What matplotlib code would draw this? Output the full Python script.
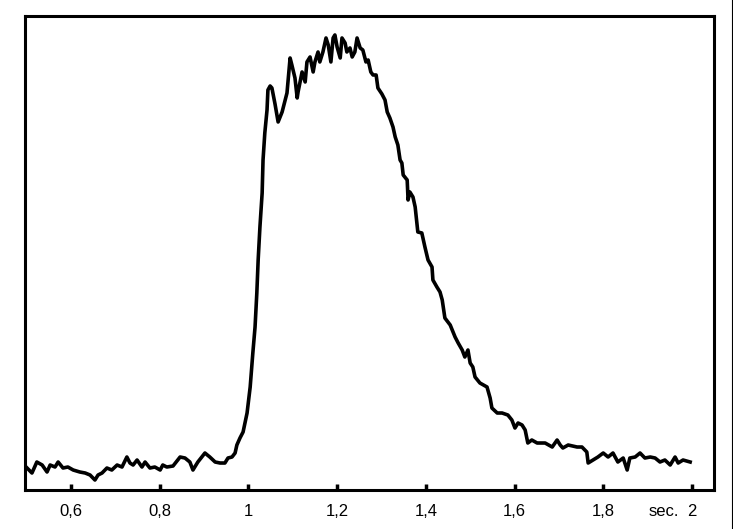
import matplotlib
matplotlib.use("Agg")
import matplotlib.pyplot as plt
from matplotlib.lines import Line2D

# Signal trace read from the recording (time in s, amplitude in arbitrary units)
t = [0.501, 0.512, 0.523, 0.535, 0.546, 0.553, 0.564, 0.571, 0.582, 0.593,
     0.605, 0.620, 0.632, 0.643, 0.654, 0.661, 0.670, 0.681, 0.692, 0.704,
     0.715, 0.726, 0.733, 0.740, 0.749, 0.760, 0.767, 0.778, 0.789, 0.801,
     0.807, 0.816, 0.830, 0.846, 0.857, 0.868, 0.875, 0.886, 0.902, 0.913,
     0.925, 0.936, 0.947, 0.954, 0.963, 0.970, 0.974, 0.981, 0.988, 0.997,
     1.004, 1.010, 1.015, 1.019, 1.022, 1.026, 1.031, 1.033, 1.037, 1.042,
     1.044, 1.049, 1.053, 1.060, 1.067, 1.076, 1.083, 1.087, 1.094, 1.098,
     1.105, 1.110, 1.112, 1.121, 1.128, 1.132, 1.139, 1.146, 1.150, 1.157,
     1.161, 1.168, 1.175, 1.180, 1.186, 1.191, 1.195, 1.200, 1.207, 1.211,
     1.218, 1.222, 1.229, 1.234, 1.240, 1.245, 1.252, 1.258, 1.265, 1.270,
     1.276, 1.281, 1.288, 1.292, 1.301, 1.308, 1.313, 1.319, 1.326, 1.331,
     1.337, 1.342, 1.346, 1.349, 1.358, 1.360, 1.364, 1.371, 1.376, 1.382,
     1.391, 1.398, 1.405, 1.414, 1.416, 1.425, 1.432, 1.437, 1.443, 1.455,
     1.466, 1.473, 1.482, 1.488, 1.495, 1.500, 1.506, 1.511, 1.522, 1.538,
     1.545, 1.549, 1.561, 1.572, 1.585, 1.594, 1.601, 1.608, 1.617, 1.624,
     1.630, 1.639, 1.651, 1.669, 1.685, 1.696, 1.703, 1.709, 1.721, 1.741,
     1.752, 1.763, 1.766, 1.777, 1.788, 1.800, 1.811, 1.822, 1.833, 1.845,
     1.854, 1.860, 1.872, 1.883, 1.894, 1.906, 1.917, 1.928, 1.939, 1.951,
     1.962, 1.969, 1.980, 1.996]
amp = [22, 17, 28, 25, 18, 25, 23, 28, 22, 23,
       20, 18, 17, 15, 10, 15, 17, 22, 20, 25,
       23, 33, 27, 25, 30, 23, 28, 22, 23, 20,
       25, 23, 24, 33, 32, 28, 20, 28, 37, 33,
       28, 27, 27, 32, 33, 37, 45, 52, 58, 77,
       103, 137, 163, 197, 230, 263, 297, 330, 357, 380,
       400, 404, 402, 386, 368, 378, 390, 397, 432, 425,
       412, 392, 398, 418, 408, 428, 433, 418, 428, 438,
       428, 438, 452, 445, 428, 452, 455, 443, 432, 452,
       447, 438, 442, 433, 438, 452, 442, 440, 428, 430,
       418, 415, 415, 402, 396, 390, 378, 372, 363, 353,
       345, 330, 327, 315, 310, 290, 298, 293, 283, 258,
       257, 243, 230, 223, 210, 203, 198, 190, 172, 165,
       153, 147, 140, 133, 140, 127, 123, 113, 107, 103,
       92, 82, 77, 77, 75, 70, 62, 67, 65, 60,
       47, 50, 47, 47, 43, 50, 45, 42, 45, 43,
       43, 38, 27, 30, 33, 37, 33, 37, 28, 32,
       20, 32, 33, 37, 32, 33, 32, 28, 30, 25,
       33, 27, 30, 28]

ticks = [0.6, 0.8, 1.0, 1.2, 1.4, 1.6, 1.8, 2.0]
tick_labels = ["0,6", "0,8", "1", "1,2", "1,4", "1,6", "1,8", "2"]

plt.rcParams['font.family'] = ['Liberation Sans', 'DejaVu Sans']

fig = plt.figure(figsize=(7.33, 5.29), dpi=100)
ax = fig.add_axes([0.0341, 0.0737, 0.9400, 0.8961])

ax.plot(t, amp, color='black', linewidth=2.6, solid_joinstyle='round')

ax.set_xlim(0.4963, 2.0498)
ax.set_ylim(0, 474)

for s in ax.spines.values():
    s.set_linewidth(2.2)

ax.set_xticks(ticks)
ax.set_xticklabels(tick_labels, fontsize=12)
ax.tick_params(axis='x', direction='in', length=4, width=2.5, pad=10)
ax.set_yticks([])

# axis unit in front of the last tick label
ax.annotate('sec.', xy=(2.0, 0), xycoords=('data', 'axes fraction'),
            xytext=(-9.5, -10), textcoords='offset points',
            ha='right', va='top', fontsize=12)

# thin border line at the right edge of the picture
fig.add_artist(Line2D([0.9985, 0.9985], [0, 1], color='black', linewidth=0.8))

fig.savefig('out.png', dpi=100)
